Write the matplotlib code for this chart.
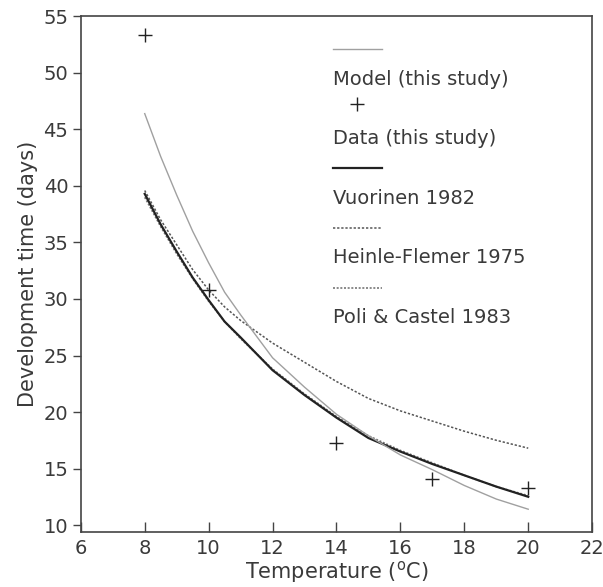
import matplotlib.pyplot as plt

# values
temps = [8, 8.5, 9, 9.5, 10, 10.5, 11, 12, 13, 14, 15, 16, 17, 18, 19, 20]
model = [46.4, 42.6, 39.2, 36.0, 33.2, 30.6, 28.6, 24.8, 22.2, 19.8, 17.9, 16.2, 14.9, 13.5, 12.3, 11.4]
vuorinen = [39.3, 36.6, 34.2, 31.9, 29.9, 28.0, 26.6, 23.7, 21.5, 19.5, 17.7, 16.5, 15.4, 14.4, 13.4, 12.5]
heinle = [39.6, 37.0, 34.8, 32.6, 30.8, 29.3, 28.1, 26.1, 24.4, 22.7, 21.2, 20.1, 19.2, 18.3, 17.5, 16.8]
poli = [39.0, 36.4, 34.0, 31.8, 29.8, 28.0, 26.5, 23.8, 21.6, 19.6, 17.9, 16.6, 15.5, 14.4, 13.4, 12.6]

data_temps = [8, 10, 14, 17, 20]
data_days = [53.4, 30.8, 17.3, 14.1, 13.25]

x_ticks = [6, 8, 10, 12, 14, 16, 18, 20, 22]
y_ticks = [10, 15, 20, 25, 30, 35, 40, 45, 50, 55]

TEXT_COLOR = "#3a3a3a"
AXIS_COLOR = "#444444"

fig = plt.figure(figsize=(6.03, 5.87), dpi=100)
ax = fig.add_axes([0.134, 0.094, 0.848, 0.878])

styles = {
    "model": dict(color="#a0a0a0", lw=1.0, ls="-"),
    "vuorinen": dict(color="#222222", lw=1.6, ls="-"),
    "heinle": dict(color="#555555", lw=1.1, ls=(0, (1.5, 1.2))),
    "poli": dict(color="#777777", lw=1.2, ls=(0, (1.2, 1.0))),
}

ax.plot(temps, heinle, **styles["heinle"])
ax.plot(temps, poli, **styles["poli"])
ax.plot(temps, vuorinen, **styles["vuorinen"])
ax.plot(temps, model, **styles["model"])
ax.plot(data_temps, data_days, ls="none", marker="+", ms=10, mew=1.0, color="#222222")

ax.set_xlim(6, 22)
ax.set_ylim(9.4, 55)
ax.set_xticks(x_ticks)
ax.set_yticks(y_ticks)
ax.tick_params(axis="x", direction="in", length=7, width=1.0, color=AXIS_COLOR,
               labelsize=14, labelcolor=TEXT_COLOR, pad=5)
ax.tick_params(axis="y", direction="out", length=6, width=1.0, color=AXIS_COLOR,
               labelsize=14, labelcolor=TEXT_COLOR, pad=3)
for spine in ax.spines.values():
    spine.set_color(AXIS_COLOR)
    spine.set_linewidth(1.2)

ax.set_xlabel("Temperature ($^\\mathregular{o}$C)", fontsize=15, color=TEXT_COLOR, labelpad=1)
ax.set_ylabel("Development time (days)", fontsize=15, color=TEXT_COLOR, labelpad=4)

# legend: sample drawn above each label, as in the original
legend_entries = [
    ("Model (this study)", "model"),
    ("Data (this study)", "data"),
    ("Vuorinen 1982", "vuorinen"),
    ("Heinle-Flemer 1975", "heinle"),
    ("Poli & Castel 1983", "poli"),
]
x0, x1 = 0.493, 0.589
top, step, gap = 0.936, 0.1155, 0.058
for i, (label, key) in enumerate(legend_entries):
    y = top - i * step
    if key == "data":
        ax.plot([(x0 + x1) / 2], [y + 0.01], transform=ax.transAxes, ls="none",
                marker="+", ms=10, mew=1.0, color="#222222")
    else:
        ax.plot([x0, x1], [y, y], transform=ax.transAxes, **styles[key])
    ax.text(x0, y - gap, label, transform=ax.transAxes, fontsize=14,
            color=TEXT_COLOR, va="center", ha="left")

fig.savefig("out.png", dpi=100)
